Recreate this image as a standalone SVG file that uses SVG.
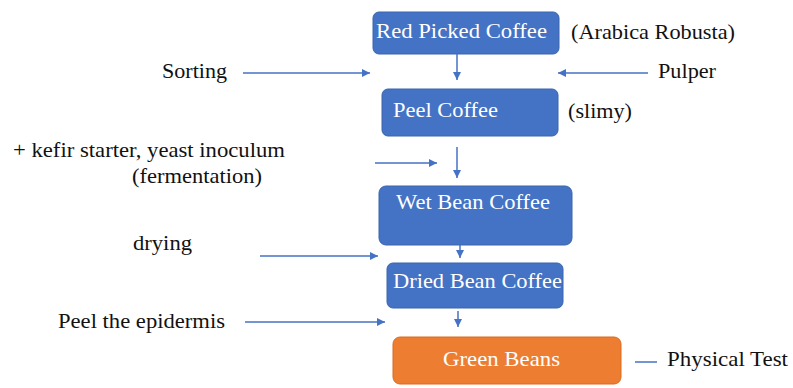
<svg xmlns="http://www.w3.org/2000/svg" width="793" height="388" viewBox="0 0 793 388">
<defs>
<marker id="ah" viewBox="0 0 10 10" refX="10" refY="5" markerWidth="8" markerHeight="8" markerUnits="userSpaceOnUse" orient="auto">
<path d="M0,0 L10,5 L0,10 Z" fill="#4472C4"/>
</marker>
</defs>
<style>
text{font-family:'Liberation Serif','Times New Roman','DejaVu Serif',serif;font-size:21px}
.t{fill:#111}
.w{fill:#fff}
.b{fill:#4472C4;stroke:#3A64AE;stroke-width:1}
.o{fill:#ED7D31;stroke:#D96B22;stroke-width:1}
.c{stroke:#4472C4;stroke-width:1.5;fill:none;marker-end:url(#ah)}
</style>
<rect width="793" height="388" fill="#fff"/>
<g id="red"><rect class="b" x="373" y="12" width="186" height="42" rx="6"/><text class="w" x="376" y="38" textLength="171" lengthAdjust="spacingAndGlyphs">Red Picked Coffee</text></g>
<g id="peel"><rect class="b" x="382" y="89" width="176" height="47" rx="6"/><text class="w" x="393" y="117" textLength="105" lengthAdjust="spacingAndGlyphs">Peel Coffee</text></g>
<g id="wet"><rect class="b" x="379" y="186" width="193" height="59" rx="7"/><text class="w" x="396" y="209" textLength="154" lengthAdjust="spacingAndGlyphs">Wet Bean Coffee</text></g>
<g id="dried"><rect class="b" x="387" y="263" width="176" height="45" rx="6"/><text class="w" x="393" y="288" textLength="169" lengthAdjust="spacingAndGlyphs">Dried Bean Coffee</text></g>
<g id="green"><rect class="o" x="393" y="337" width="228" height="47" rx="7"/><text class="w" x="443" y="366" textLength="117" lengthAdjust="spacingAndGlyphs">Green Beans</text></g>
<g id="labels">
<text class="t" x="571" y="39" textLength="164" lengthAdjust="spacingAndGlyphs">(Arabica Robusta)</text>
<text class="t" x="162" y="78" textLength="65" lengthAdjust="spacingAndGlyphs">Sorting</text>
<text class="t" x="658" y="78" textLength="58" lengthAdjust="spacingAndGlyphs">Pulper</text>
<text class="t" x="568" y="118" textLength="64" lengthAdjust="spacingAndGlyphs">(slimy)</text>
<text class="t" x="13" y="157" textLength="272" lengthAdjust="spacingAndGlyphs">+ kefir starter, yeast inoculum</text>
<text class="t" x="132" y="183" textLength="130" lengthAdjust="spacingAndGlyphs">(fermentation)</text>
<text class="t" x="133" y="250" textLength="59" lengthAdjust="spacingAndGlyphs">drying</text>
<text class="t" x="58" y="328" textLength="167" lengthAdjust="spacingAndGlyphs">Peel the epidermis</text>
<text class="t" x="667" y="366" textLength="121" lengthAdjust="spacingAndGlyphs">Physical Test</text>
</g>
<g id="connectors">
<line class="c" x1="457" y1="54" x2="457" y2="80"/>
<line class="c" x1="243" y1="73" x2="370" y2="73"/>
<line class="c" x1="648" y1="73" x2="558" y2="73"/>
<line class="c" x1="457" y1="147" x2="457" y2="178"/>
<line class="c" x1="375" y1="163" x2="437" y2="163"/>
<line class="c" x1="460" y1="245" x2="460" y2="258"/>
<line class="c" x1="260" y1="256" x2="378" y2="256"/>
<line class="c" x1="458" y1="311" x2="458" y2="327"/>
<line class="c" x1="245" y1="322" x2="385" y2="322"/>
<line x1="635" y1="362" x2="657" y2="362" stroke="#4472C4" stroke-width="1.5"/>
</g>
</svg>
